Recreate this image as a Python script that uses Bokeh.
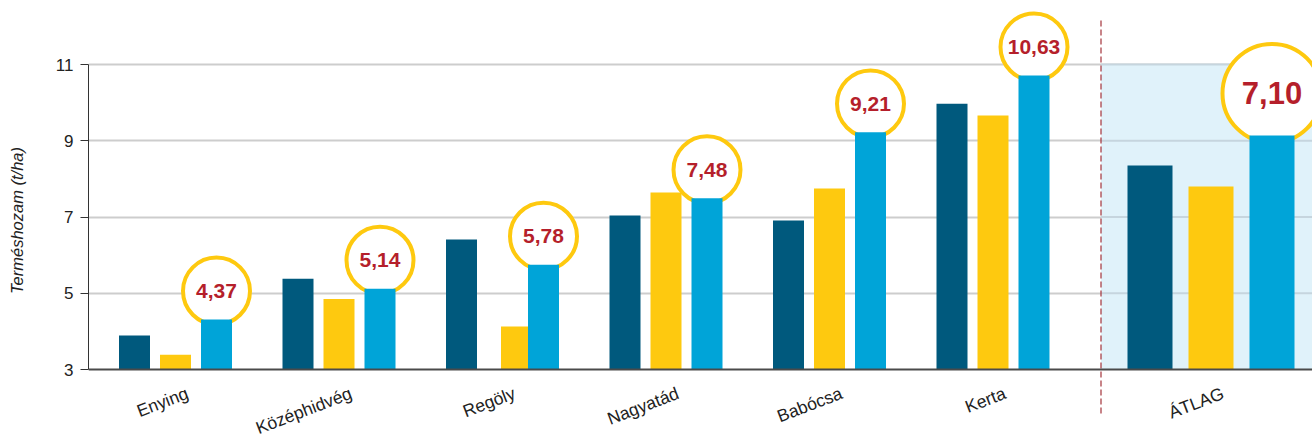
import numpy as np
from bokeh.plotting import figure
from bokeh.models import FixedTicker
from bokeh.core.properties import value
from bokeh.embed import file_html
from bokeh.resources import INLINE

# ---- data ----
categories = ["Enying", "Középhidvég", "Regöly", "Nagyatád", "Babócsa", "Kerta", "ÁTLAG"]
series_dark = [3.89, 5.38, 6.41, 7.04, 6.91, 9.97, 8.35]
series_yellow = [3.39, 4.85, 4.13, 7.64, 7.75, 9.66, 7.80]
series_blue = [4.31, 5.12, 5.75, 7.49, 9.22, 10.71, 9.14]
circle_labels = ["4,37", "5,14", "5,78", "7,48", "9,21", "10,63", "7,10"]
y_ticks = [3, 5, 7, 9, 11]
y_title = "Terméshozam (t/ha)"

# ---- colours ----
C_DARK = "#00597d"
C_YELLOW = "#fec90f"
C_BLUE = "#00a4d8"
C_RED = "#b51f2b"
C_SHADE = "#e0f2fa"
FONT = value("Liberation Sans")

# ---- geometry (pixel scale of the frame) ----
PXX = 1 / 163.5      # data units per pixel, x
PXY = 1 / 38.125     # data units per pixel, y
x_start = -87 * PXX
x_end = x_start + 1224 * PXX
y_start = 3 - 71 * PXY
y_end = 3 + 369 * PXY

n = len(categories)
centers = np.arange(n, dtype=float)
centers[-1] = (n - 1) + 1 / 3.0          # ÁTLAG set apart
is_avg = np.array([c == "ÁTLAG" for c in categories])
offs = np.where(is_avg, 61 * PXX, 41 * PXX)
widths = np.where(is_avg, 45 * PXX, 31 * PXX)
yellow_shift = np.array([14 * PXX if c == "Regöly" else 0.0 for c in categories])

x_dark = centers - offs
x_yellow = centers + yellow_shift
x_blue = centers + offs

p = figure(width=1312, height=440, output_backend="svg", toolbar_location=None,
           x_range=(x_start, x_end), y_range=(y_start, y_end),
           x_axis_location=None, min_border_left=88, min_border_right=0,
           min_border_top=0, min_border_bottom=0)
p.outline_line_color = None
p.background_fill_color = "white"
p.xgrid.visible = False
p.ygrid.ticker = FixedTicker(ticks=[5, 7, 9, 11])
p.ygrid.grid_line_color = "#cdcdcd"
p.ygrid.grid_line_width = 2

yax = p.yaxis[0]
yax.ticker = FixedTicker(ticks=y_ticks)
yax.bounds = (3, 11)
yax.major_tick_out = 8
yax.major_tick_in = 0
yax.minor_tick_line_color = None
yax.axis_line_color = "#333333"
yax.major_tick_line_color = "#333333"
yax.major_label_text_font = "Liberation Sans"
yax.major_label_text_font_size = "17px"
yax.major_label_text_color = "#222222"
yax.major_label_standoff = 7
yax.axis_label = y_title
yax.axis_label_text_font = "Liberation Sans"
yax.axis_label_text_font_style = "italic"
yax.axis_label_text_font_size = "16.5px"
yax.axis_label_text_color = "#222222"
yax.axis_label_standoff = 27

# shaded average area
sep_x = centers[-2] + 108 * PXX
p.quad(left=[sep_x], right=[x_end], bottom=[3], top=[11], fill_color=C_SHADE, line_color=None)
p.segment(x0=[sep_x] * 4, x1=[x_end] * 4, y0=[5, 7, 9, 11], y1=[5, 7, 9, 11],
          line_color="#c6d5de", line_width=2)
# dashed separator
p.segment(x0=[sep_x], x1=[sep_x], y0=[3 - 44 * PXY], y1=[3 + 350 * PXY],
          line_color="#a3323a", line_width=1.2, line_dash="6 3")

# circles behind bars
circ_off = np.where(is_avg, 42 * PXY, 28.5 * PXY)
circ_y = np.array(series_blue) + circ_off
circ_size = np.where(is_avg, 99, 67)
p.scatter(x=x_blue, y=circ_y, size=circ_size, marker="circle",
          fill_color="white", line_color=C_YELLOW, line_width=4)

# bars
p.vbar(x=x_dark, width=widths, bottom=3, top=series_dark, fill_color=C_DARK, line_color=None)
p.vbar(x=x_yellow, width=widths, bottom=3, top=series_yellow, fill_color=C_YELLOW, line_color=None)
p.vbar(x=x_blue, width=widths, bottom=3, top=series_blue, fill_color=C_BLUE, line_color=None)

# baseline
p.segment(x0=[x_start], x1=[x_end], y0=[3], y1=[3], line_color="#4a4a4a", line_width=2)

# circle labels
reg = ~is_avg
p.text(x=x_blue[reg], y=circ_y[reg], text=[l for l, a in zip(circle_labels, is_avg) if not a],
       text_font=FONT, text_font_style="bold", text_font_size="21px",
       text_color=C_RED, text_align="center", text_baseline="middle")
p.text(x=x_blue[is_avg], y=circ_y[is_avg], text=[l for l, a in zip(circle_labels, is_avg) if a],
       text_font=FONT, text_font_style="bold", text_font_size="31px",
       text_color=C_RED, text_align="center", text_baseline="middle")

# category labels (rotated)
p.text(x=centers + 12 * PXX, y=[3 - 23 * PXY] * n, text=categories,
       text_font=FONT, text_font_size="17.5px", text_color="#222222",
       angle=np.deg2rad(21), text_align="right", text_baseline="middle")

open("out.html", "w").write(file_html(p, INLINE))
